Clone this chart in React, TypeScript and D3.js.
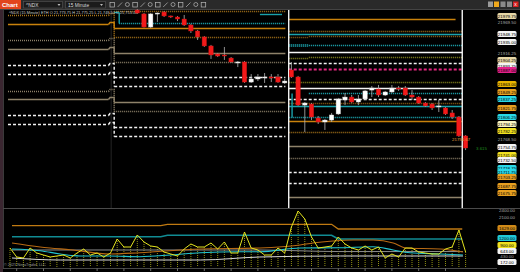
import React from 'react';
import * as d3 from 'd3';

const W = 520;
const H = 272;

// ---------- candles (15 minute bars) ----------
const candleOpen = [21990, 21983.25, 21960.75, 21983.25, 21986.5, 21979.75, 21978, 21974.5, 21964.25, 21954, 21943.75, 21928.25, 21914.5, 21912.75, 21907.5, 21899, 21900.75, 21866.25, 21871.5, 21873.25, 21875, 21875, 21864.75, 21887, 21875, 21826.75, 21828.5, 21804.5, 21797.75, 21801, 21811.5, 21835.5, 21840.5, 21832, 21837.25, 21852.5, 21854.25, 21844, 21849.25, 21856, 21856, 21844, 21840.5, 21830.25, 21828.5, 21823.5, 21821.75, 21813.25, 21806.25, 21773.75];
const candleHigh = [21991.75, 21984.75, 21984.75, 21985.75, 21988.25, 21980.5, 21979.75, 21981.5, 21966, 21955.75, 21945.25, 21930, 21916.25, 21926.5, 21909.25, 21902.5, 21902.5, 21880, 21880, 21881.75, 21880, 21880, 21871.5, 21900.75, 21876.75, 21832, 21830.25, 21808, 21802.75, 21813.25, 21839, 21847.5, 21844, 21844, 21852.5, 21859.5, 21861.25, 21851, 21861.25, 21859.5, 21859.5, 21852.5, 21842.25, 21832, 21830.25, 21835.5, 21823.5, 21818.25, 21808, 21775.25];
const candleLow = [21983.25, 21960, 21959, 21969.5, 21978, 21976.25, 21971, 21962.5, 21950.5, 21938.5, 21926.5, 21906, 21909.25, 21904.25, 21899, 21892, 21864.75, 21864.75, 21868, 21864.75, 21866.25, 21864.75, 21863, 21873.25, 21825.25, 21780.5, 21801, 21794.25, 21784, 21797.75, 21809.75, 21826.75, 21830.25, 21826.75, 21835.5, 21840.5, 21840.5, 21842.25, 21847.5, 21851, 21842.25, 21835.5, 21828.5, 21823.5, 21818.25, 21814.75, 21809.75, 21802.75, 21772, 21749.5];
const candleClose = [21984.75, 21960.75, 21983.25, 21984.75, 21979.75, 21978, 21974.5, 21964.25, 21954, 21943.75, 21928.25, 21912.75, 21911, 21911, 21900.75, 21900.75, 21866.25, 21871.5, 21875, 21875, 21873.25, 21866.25, 21868, 21875, 21826.75, 21830.25, 21806.25, 21797.75, 21801, 21809.75, 21837.25, 21840.5, 21832, 21837.25, 21851, 21856, 21844, 21849.25, 21856, 21854.25, 21844, 21840.5, 21830.25, 21825.25, 21821.75, 21825.25, 21811.5, 21806.25, 21773.75, 21753];

// ---------- sessions (bar index ranges) ----------
const sessionRanges = [[-19.3, -4.3], [-3.45, 22.1], [22.6, 48.5]];
const sessionLines = [22.6, 48.5];
const gridLines = [-3.9];

// ---------- pivot / level lines ----------
const seg1Prices = [21981.5, 21966, 21938.5, 21923, 21895.5, 21880, 21851, 21837.25, 21809.75, 21794.25];
const seg1Styles = ['od', 'os', 'td', 'ts', 'wd', 'wd', 'td', 'ts', 'wd', 'wd'];
const seg2Prices = [21988.25, 21967.75, 21959, 21943.75, 21916.25, 21900.75, 21875, 21859.5, 21832, 21816.5, 21789, 21773.75];
const seg2Styles = ['od', 'cd', 'os', 'od', 'ts', 'td', 'wd', 'wd', 'ts', 'td', 'wd', 'wd'];
const seg2Start = [-3.45, -2.7, -3.45, -3.45, -3.45, -3.45, -3.45, -3.45, -3.45, -3.45, -3.45, -3.45];
const seg1to2 = [[0, 3], [1, 2], [2, 5], [3, 4], [4, 6], [5, 7], [6, 9], [7, 8], [8, 10], [9, 11]];
const seg3Prices = [21974.5, 21954, 21948.75, 21945.25, 21930, 21918, 21909.25, 21899, 21888.75, 21866.25, 21856, 21847.5, 21837.25, 21830.25, 21825.25, 21806.25, 21799.5, 21780.5, 21756.5, 21736, 21711.75, 21693, 21669];
const seg3Styles = ['os', 'od', 'cs', 'bd', 'cd', 'ws', 'ld', 'wd', 'md', 'ld', 'ws', 'cd', 'wd', 'bd', 'cs', 'cd', 'os', 'od', 'ts', 'td', 'wd', 'wd', 'ts'];
const seg3Start = [22.6, 22.6, 22.6, 25.6, 25.6, 22.6, 25.6, 22.6, 22.6, 22.6, 22.6, 25.6, 22.6, 22.6, 22.6, 22.6, 22.6, 22.6, 22.6, 22.6, 22.6, 22.6, 22.6];
const seg3End = [47.5, 48.5, 48.5, 48.5, 48.5, 48.5, 48.5, 48.5, 48.5, 48.5, 48.5, 48.5, 48.5, 48.5, 48.5, 48.5, 48.5, 48.5, 48.5, 48.5, 48.5, 48.5, 48.5];
const extraFrom = [-3.45, 18.3, 22.6, 22.6, 22.6];
const extraTo = [-2.7, 21.6, 25.6, 25.6, 25.6];
const extraPrice = [21986.5, 21983.25, 21943.75, 21907.5, 21930];
const extraStyle = ['cs', 'cs', 'bd', 'ld', 'cdt'];
const vertAt = [-2.7, 23.1];
const vertFrom = [21986.5, 21847.5];
const vertTo = [21967.75, 21806.25];
const vertStyle = ['cs', 'cs'];

const lineStyles: Record<string, { c: string; w: number; d?: string }> = {
  os: { c: '#c9820c', w: 1.4 },
  od: { c: '#a8741a', w: 1.6, d: '1,1' },
  ts: { c: '#8e826a', w: 1.4 },
  td: { c: '#8e826a', w: 1.6, d: '1,1' },
  wd: { c: '#f2f2f2', w: 1.4, d: '3,2' },
  ws: { c: '#f4f4f4', w: 1.6 },
  cs: { c: '#1aa2ac', w: 1.4 },
  cd: { c: '#1fb8c4', w: 1.4, d: '1,1' },
  cdt: { c: '#1aa2ac', w: 3, d: '1,1' },
  ld: { c: '#8e8e20', w: 1.6, d: '1,1' },
  md: { c: '#e4267e', w: 1.8, d: '3,2' },
  bd: { c: '#98681a', w: 1.6, d: '1,1' },
};

// ---------- right axis labels ----------
const axisLabelPrices = [21979.75, 21969.5, 21948.75, 21935, 21916.25, 21904.25, 21893.75, 21887, 21863, 21849.25, 21837.25, 21821.75, 21806.25, 21794.25, 21782.25, 21768.5, 21754.75, 21741, 21732.5, 21718.75, 21711.75, 21703.25, 21687.75, 21675.75];
const axisLabelColors = ['#e6d6a6', '', '#f4f4f4', '#f4f4f4', '', '#e6d6a6', '#f4f4f4', '#e4208a', '#e8b400', '#e8a020', '#28d8e8', '#e8a020', '#28d8e8', '#f8f4c0', '#f0e020', '', '#f4f4f4', '#f0e020', '#f4f4f4', '#28d8e8', '#28d8e8', '#e8a020', '#e8a020', '#e8a020'];

// ---------- lower pane (volume style indicator) ----------
const volumeStart = -19;
const volume = [771, 386, 343, 771, 557, 471, 386, 429, 471, 343, 557, 729, 471, 557, 386, 557, 1157, 814, 814, 1329, 1029, 857, 814, 600, 514, 429, 729, 943, 814, 814, 986, 729, 1029, 557, 557, 1457, 771, 686, 471, 471, 771, 557, 1671, 2357, 2014, 1243, 771, 814, 857, 1243, 943, 771, 686, 857, 686, 814, 343, 514, 386, 771, 771, 600, 557, 514, 514, 729, 814, 1543, 600];
const orangeBandIdx = [-18.7, 3.5, 4.5, 29, 30, 48.5];
const orangeBandVal = [1727, 1727, 1787, 1787, 1586, 1586];
const tealBandIdx = [-18.7, 3.5, 4.5, 29, 30, 48.5];
const tealBandVal = [1256, 1256, 1316, 1316, 1157, 1157];
const orangeMaIdx = [-18.7, -14.5, -13, -10, -4.1, 0.4, 9.4, 18.3, 24.3, 26.2, 29.2, 32.2, 35.2, 38.2, 40.1, 45.2, 48.6];
const orangeMaVal = [986, 814, 771, 699, 514, 570, 729, 771, 900, 986, 1071, 1114, 1114, 986, 771, 729, 600];
const cyanMaIdx = [-18.7, -14.5, -11.5, -8.5, -4.1, 0.4, 4.9, 9.4, 15.3, 18.3, 24.3, 30.3, 35.2, 38.2, 40.7, 45.2, 48.6];
const cyanMaVal = [729, 656, 514, 429, 429, 399, 471, 570, 613, 613, 771, 784, 827, 686, 570, 514, 471];
const greyLineIdx = [-18.7, 18, 30, 48.6];
const greyLineVal = [686, 686, 620, 620];
const whiteLineIdx = [-18.7, -11.5, 9.4, 18.3, 30.3, 48.6];
const whiteLineVal = [343, 257, 257, 386, 429, 429];
const lowerLabelVals = [1629, 1200, 900, 643, 430, 172];
const lowerLabelColors = ['#d08a18', '#20c8d8', '#f0e020', '#f4f4f4', '', '#f4f4f4'];
const lowerTicks = [2400, 2100];
const timeTicks = d3.range(-18, 50, 4);

const FONT = '"Liberation Sans", Arial, sans-serif';

export default function App() {
  const y = d3.scaleLinear().domain([21650, 21990]).range([208, 10]);
  const x = d3.scaleLinear().domain([0, 49]).range([137.3, 465.6]);
  const yL = d3.scaleLinear().domain([0, 2400]).range([266, 210]);
  const ry = (p: number) => Math.round(y(p)) + 0.5;

  const lineEl = (key: string, x1: number, x2: number, yy: number, k: string) => {
    const s = lineStyles[key];
    return <line key={k} x1={x1} x2={x2} y1={yy} y2={yy} stroke={s.c} strokeWidth={s.w} strokeDasharray={s.d} />;
  };

  const lowLine = d3.line<[number, number]>().x(d => x(d[0])).y(d => yL(d[1]));
  const lowCurve = d3.line<[number, number]>().x(d => x(d[0])).y(d => yL(d[1])).curve(d3.curveMonotoneX);
  const zip = (a: number[], b: number[]) => a.map((v, i) => [v, b[i]] as [number, number]);
  const volPts = volume.map((v, i) => [volumeStart + i, v] as [number, number]);

  const bw = 4.4;

  return (
    <svg width={W} height={H} style={{ position: 'fixed', left: 0, top: 0, background: '#000' }} fontFamily={FONT}>
      <rect x={0} y={0} width={W} height={H} fill="#000" />
      {/* left window edge */}
      <rect x={0} y={10} width={3} height={H - 10} fill="#3a2630" />
      <line x1={3.5} x2={3.5} y1={10} y2={268} stroke="#3a3a3a" />

      {/* toolbar */}
      <rect x={0} y={0} width={W} height={10} fill="#2a2a2a" />
      <line x1={0} x2={W} y1={9.5} y2={9.5} stroke="#444" />
      <rect x={0} y={0} width={21} height={9} fill="#e2441c" />
      <text x={2} y={7} fontSize={6} fill="#fff" fontWeight="bold">Chart</text>
      <rect x={23.5} y={1.5} width={39} height={6.5} fill="#1b1b1b" stroke="#555" strokeWidth={0.6} />
      <text x={26} y={6.6} fontSize={4.8} fill="#ddd">^NDX</text>
      <path d="M57.5,4 L60.5,4 L59,6 Z" fill="#bbb" />
      <rect x={65.5} y={1.5} width={40} height={6.5} fill="#1b1b1b" stroke="#555" strokeWidth={0.6} />
      <text x={68} y={6.6} fontSize={4.8} fill="#ddd">15 Minute</text>
      <path d="M100,4 L103,4 L101.5,6 Z" fill="#bbb" />
      {d3.range(13).map(i => {
        const ix = 110 + i * 7.6;
        return (
          <g key={'ic' + i} stroke="#b8b8b8" strokeWidth={0.7} fill="none">
            {i % 3 === 0 && <rect x={ix} y={2.5} width={4.5} height={4.5} />}
            {i % 3 === 1 && <line x1={ix} y1={7} x2={ix + 4.5} y2={2.5} />}
            {i % 3 === 2 && <circle cx={ix + 2.2} cy={4.5} r={2} />}
          </g>
        );
      })}
      <rect x={488} y={1.5} width={5} height={5.5} fill="#9a9a9a" />
      <rect x={494} y={1.5} width={5} height={5.5} fill="#f0a81c" />
      <rect x={500.5} y={1.5} width={5} height={5.5} fill="#8a8a8a" />
      <rect x={507} y={1.5} width={5} height={5.5} fill="#8a8a8a" />
      <rect x={513} y={1.5} width={5.5} height={5.5} fill="#d62020" />
      <text x={514.3} y={6.3} fontSize={5} fill="#fff">x</text>

      {/* faint grid / session lines */}
      {gridLines.map((g, i) => (
        <line key={'g' + i} x1={x(g)} x2={x(g)} y1={10} y2={208} stroke="#2e2e2e" strokeWidth={0.8} />
      ))}

      {/* level lines segment 1 */}
      {seg1Prices.map((p, i) => lineEl(seg1Styles[i], x(sessionRanges[0][0]), x(sessionRanges[0][1]), ry(p), 's1' + i))}
      {/* connectors seg1 -> seg2 */}
      {seg1to2.map(([a, b], i) => {
        const s = lineStyles[seg1Styles[a]];
        const y1 = ry(seg1Prices[a]);
        const y2 = ry(seg2Prices[b]);
        const xa = x(sessionRanges[0][1]);
        const xb = x(sessionRanges[1][0]);
        return (
          <path key={'cn' + i} d={`M${xa},${y1} L${xa + 1.5},${y1 - 2} L${xb},${y1 - 2} L${xb},${y2}`} fill="none"
            stroke={s.c} strokeWidth={s.w} strokeDasharray={s.d} />
        );
      })}
      {/* segment 2 */}
      {seg2Prices.map((p, i) => lineEl(seg2Styles[i], x(seg2Start[i]), x(sessionRanges[1][1]), ry(p), 's2' + i))}
      {/* segment 3 */}
      {seg3Prices.map((p, i) => lineEl(seg3Styles[i], x(seg3Start[i]), x(seg3End[i]), ry(p), 's3' + i))}
      {extraPrice.map((p, i) => lineEl(extraStyle[i], x(extraFrom[i]), x(extraTo[i]), ry(p), 'ex' + i))}
      {vertAt.map((v, i) => {
        const s = lineStyles[vertStyle[i]];
        return <line key={'vt' + i} x1={x(v)} x2={x(v)} y1={ry(vertFrom[i])} y2={ry(vertTo[i])} stroke={s.c} strokeWidth={s.w} />;
      })}

      {/* session separators */}
      {sessionLines.map((s, i) => (
        <line key={'sl' + i} x1={x(s)} x2={x(s)} y1={10} y2={208} stroke="#f4f4f4" strokeWidth={1.4} />
      ))}

      {/* title */}
      <text x={9} y={14} fontSize={3.9} fill="#c8c8c8">^NDX (15 Minute) ETH  O 21,773.75  H 21,775.25  L 21,749.50  C 21,753.00</text>

      {/* candles */}
      {candleOpen.map((o, i) => {
        const c = candleClose[i];
        const up = c >= o;
        const cx = x(i);
        const top = y(Math.max(o, c));
        const h = Math.max(1, Math.abs(y(o) - y(c)));
        return (
          <g key={'c' + i}>
            <line x1={cx} x2={cx} y1={y(candleHigh[i])} y2={y(candleLow[i])} stroke="#b4b4b4" strokeWidth={0.8} />
            <rect x={cx - bw / 2} y={top} width={bw} height={h} fill={up ? '#ffffff' : '#f21a1a'}
              stroke={up ? '#d0d0d0' : '#c81010'} strokeWidth={0.4} />
          </g>
        );
      })}
      <text x={452} y={141} fontSize={4.4} fill="#e0a040">21756.67</text>
      <text x={476} y={150} fontSize={4.4} fill="#1f8f1f">3.615</text>

      {/* right axis labels */}
      {axisLabelPrices.map((p, i) => {
        const yy = y(p);
        const bg = axisLabelColors[i];
        return (
          <g key={'al' + i}>
            {bg && <rect x={497.5} y={yy - 3} width={19} height={6} rx={1.5} fill={bg} />}
            <text x={507} y={yy + 1.6} fontSize={4.4} textAnchor="middle" fill={bg ? '#000' : '#a8a8a8'}>{p.toFixed(2)}</text>
          </g>
        );
      })}

      {/* pane divider */}
      <line x1={3} x2={W} y1={208.5} y2={208.5} stroke="#4a4a4a" strokeWidth={1} />

      {/* lower pane */}
      {volPts.map((d, i) => (
        <line key={'vv' + i} x1={x(d[0])} x2={x(d[0])} y1={yL(d[1])} y2={267} stroke="#b8b81a" strokeWidth={0.8} strokeDasharray="1,1" />
      ))}
      <path d={lowLine(zip(orangeBandIdx, orangeBandVal)) || ''} fill="none" stroke="#c07a12" strokeWidth={1.3} />
      <path d={lowLine(zip(tealBandIdx, tealBandVal)) || ''} fill="none" stroke="#118c94" strokeWidth={1.6} />
      <path d={lowCurve(zip(greyLineIdx, greyLineVal)) || ''} fill="none" stroke="#8c8c8c" strokeWidth={1} />
      <path d={lowCurve(zip(whiteLineIdx, whiteLineVal)) || ''} fill="none" stroke="#d8d8d8" strokeWidth={1} />
      <path d={lowCurve(zip(orangeMaIdx, orangeMaVal)) || ''} fill="none" stroke="#b86a14" strokeWidth={1.1} />
      <path d={lowCurve(zip(cyanMaIdx, cyanMaVal)) || ''} fill="none" stroke="#22c4d0" strokeWidth={1.1} />
      <path d={lowLine(volPts) || ''} fill="none" stroke="#e4e41e" strokeWidth={1} />

      {lowerTicks.map((t, i) => (
        <text key={'lt' + i} x={507} y={yL(t) + 1.6} fontSize={4.4} textAnchor="middle" fill="#a8a8a8">{t.toFixed(2)}</text>
      ))}
      {lowerLabelVals.map((v, i) => {
        const yy = yL(v);
        const bg = lowerLabelColors[i];
        return (
          <g key={'ll' + i}>
            {bg && <rect x={497.5} y={yy - 3} width={19} height={6} rx={1.5} fill={bg} />}
            <text x={507} y={yy + 1.6} fontSize={4.4} textAnchor="middle" fill={bg ? '#000' : '#a8a8a8'}>{v.toFixed(2)}</text>
          </g>
        );
      })}

      {/* bottom axis */}
      <line x1={3} x2={497} y1={268.5} y2={268.5} stroke="#5a5a5a" strokeWidth={0.8} />
      {timeTicks.map((t, i) => (
        <line key={'tt' + i} x1={x(t)} x2={x(t)} y1={268.5} y2={271} stroke="#8a8a8a" strokeWidth={0.8} />
      ))}
      <text x={4} y={266} fontSize={3.8} fill="#9a9a9a">© 2025 NinjaTrader, LLC</text>
    </svg>
  );
}
